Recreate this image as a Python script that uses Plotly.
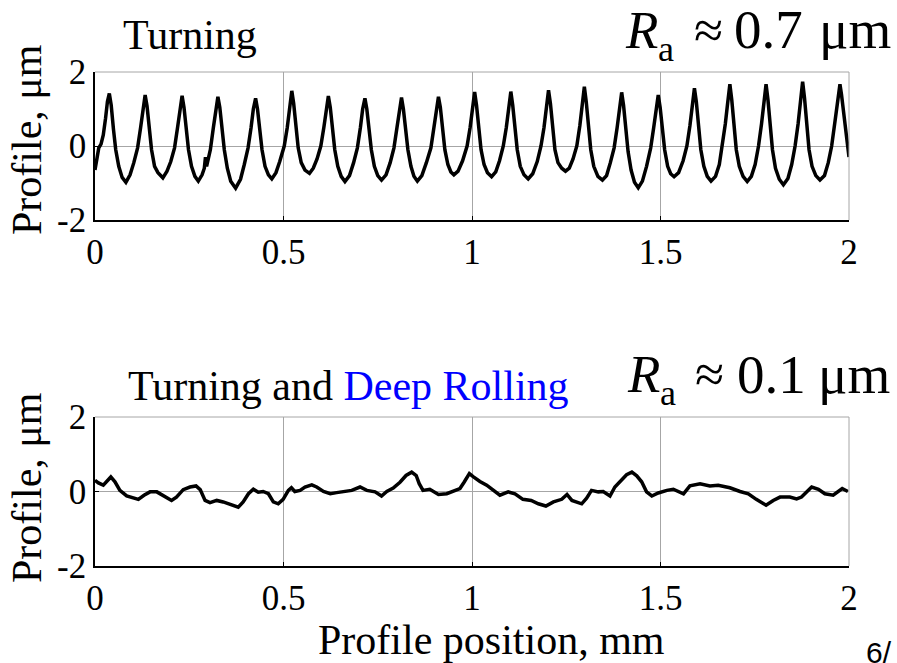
import plotly.graph_objects as go

# ---------------- data ----------------
x_ticks = [0, 0.5, 1, 1.5, 2]
x_tick_labels = ["0", "0.5", "1", "1.5", "2"]
y_ticks = [-2, 0, 2]
y_tick_labels = ["-2", "0", "2"]

turning_x = [
    0.000, 0.005, 0.010, 0.016, 0.022, 0.028, 0.033, 0.038, 0.043, 0.049, 0.055, 0.063, 0.072, 0.082,
    0.093, 0.103, 0.113, 0.121, 0.127, 0.133, 0.138, 0.144, 0.150, 0.158, 0.167, 0.180,
    0.191, 0.201, 0.211, 0.219, 0.225, 0.231, 0.236, 0.242, 0.248, 0.256, 0.265, 0.274,
    0.284, 0.290, 0.293, 0.296, 0.306, 0.314, 0.320, 0.326, 0.331, 0.337, 0.343, 0.351, 0.360, 0.373,
    0.386, 0.396, 0.406, 0.414, 0.420, 0.426, 0.431, 0.437, 0.443, 0.451, 0.460, 0.469,
    0.480, 0.490, 0.502, 0.510, 0.516, 0.522, 0.527, 0.533, 0.539, 0.547, 0.557, 0.569,
    0.579, 0.589, 0.599, 0.607, 0.613, 0.619, 0.624, 0.630, 0.636, 0.644, 0.653, 0.663,
    0.675, 0.686, 0.696, 0.704, 0.710, 0.716, 0.721, 0.727, 0.733, 0.741, 0.750, 0.760,
    0.772, 0.783, 0.793, 0.801, 0.807, 0.813, 0.818, 0.824, 0.830, 0.838, 0.846, 0.855,
    0.867, 0.879, 0.891, 0.899, 0.905, 0.911, 0.916, 0.922, 0.928, 0.936, 0.944, 0.952,
    0.963, 0.975, 0.987, 0.995, 1.001, 1.007, 1.012, 1.018, 1.024, 1.032, 1.041, 1.052,
    1.063, 1.073, 1.083, 1.091, 1.097, 1.103, 1.108, 1.114, 1.120, 1.128, 1.138, 1.149,
    1.161, 1.173, 1.183, 1.191, 1.197, 1.203, 1.208, 1.214, 1.220, 1.228, 1.238, 1.248,
    1.258, 1.268, 1.278, 1.286, 1.292, 1.298, 1.303, 1.309, 1.315, 1.323, 1.334, 1.346,
    1.357, 1.367, 1.377, 1.385, 1.391, 1.397, 1.402, 1.408, 1.414, 1.422, 1.431, 1.441,
    1.452, 1.463, 1.474, 1.482, 1.488, 1.494, 1.499, 1.505, 1.511, 1.519, 1.527, 1.536,
    1.548, 1.560, 1.570, 1.578, 1.584, 1.590, 1.595, 1.601, 1.607, 1.615, 1.624, 1.634,
    1.646, 1.656, 1.664, 1.672, 1.678, 1.684, 1.689, 1.695, 1.701, 1.709, 1.719, 1.730,
    1.741, 1.751, 1.760, 1.768, 1.774, 1.780, 1.785, 1.791, 1.797, 1.805, 1.815, 1.826,
    1.838, 1.848, 1.857, 1.865, 1.871, 1.877, 1.882, 1.888, 1.894, 1.902, 1.912, 1.923,
    1.935, 1.945, 1.954, 1.962, 1.968, 1.973, 1.976, 1.980, 1.986, 1.992, 1.997, 2.000,
]
turning_y = [
    -0.65, -0.35, -0.05, 0.05, 0.30, 0.75, 1.20, 1.42, 1.10, 0.45, -0.10, -0.55, -0.85, -0.98,
    -0.78, -0.45, -0.05, 0.50, 1.00, 1.38, 1.08, 0.45, -0.10, -0.55, -0.72, -0.86,
    -0.68, -0.42, -0.05, 0.50, 1.00, 1.36, 1.05, 0.45, -0.10, -0.55, -0.82, -0.95,
    -0.78, -0.60, -0.30, -0.55, -0.10, 0.50, 1.00, 1.33, 1.05, 0.45, -0.10, -0.60, -0.95, -1.14,
    -0.90, -0.50, -0.05, 0.50, 1.00, 1.29, 1.00, 0.45, -0.10, -0.55, -0.78, -0.89,
    -0.72, -0.42, 0.00, 0.50, 1.05, 1.49, 1.15, 0.50, -0.05, -0.45, -0.65, -0.74,
    -0.60, -0.35, 0.00, 0.50, 1.00, 1.35, 1.05, 0.45, -0.10, -0.55, -0.82, -0.96,
    -0.80, -0.45, -0.05, 0.50, 1.00, 1.29, 1.00, 0.45, -0.10, -0.55, -0.80, -0.92,
    -0.78, -0.45, -0.05, 0.50, 1.00, 1.31, 1.00, 0.45, -0.10, -0.55, -0.82, -0.95,
    -0.80, -0.45, -0.05, 0.50, 1.00, 1.33, 1.05, 0.45, -0.10, -0.50, -0.70, -0.78,
    -0.68, -0.40, 0.00, 0.50, 1.05, 1.46, 1.10, 0.45, -0.10, -0.50, -0.72, -0.83,
    -0.70, -0.40, 0.00, 0.50, 1.05, 1.47, 1.10, 0.45, -0.10, -0.55, -0.78, -0.89,
    -0.75, -0.42, 0.00, 0.50, 1.05, 1.51, 1.15, 0.45, -0.10, -0.45, -0.60, -0.68,
    -0.60, -0.35, 0.00, 0.55, 1.10, 1.60, 1.20, 0.50, -0.10, -0.55, -0.82, -0.92,
    -0.80, -0.45, -0.05, 0.50, 1.05, 1.45, 1.10, 0.45, -0.15, -0.65, -0.98, -1.13,
    -0.95, -0.55, -0.05, 0.50, 1.00, 1.38, 1.05, 0.45, -0.10, -0.55, -0.75, -0.83,
    -0.72, -0.40, 0.00, 0.55, 1.10, 1.56, 1.20, 0.50, -0.10, -0.55, -0.82, -0.95,
    -0.82, -0.50, 0.00, 0.60, 1.15, 1.67, 1.25, 0.50, -0.10, -0.55, -0.82, -0.96,
    -0.82, -0.50, 0.00, 0.60, 1.15, 1.67, 1.25, 0.50, -0.10, -0.60, -0.90, -1.05,
    -0.88, -0.50, 0.00, 0.60, 1.20, 1.74, 1.30, 0.50, -0.10, -0.55, -0.80, -0.92,
    -0.80, -0.45, 0.00, 0.60, 1.15, 1.60, 1.67, 1.40, 0.90, 0.30, -0.05, -0.30,
]

rolling_x = [
    0.000, 0.009, 0.022, 0.031, 0.042, 0.053, 0.066, 0.084, 0.102, 0.115, 0.130, 0.146, 0.164,
    0.181, 0.203, 0.216, 0.234, 0.252, 0.268, 0.279, 0.292, 0.305, 0.323, 0.340, 0.358, 0.380,
    0.393, 0.407, 0.420, 0.433, 0.446, 0.460, 0.473, 0.486, 0.499, 0.513, 0.521, 0.530, 0.544,
    0.557, 0.575, 0.588, 0.606, 0.624, 0.641, 0.663, 0.681, 0.703, 0.721, 0.743, 0.760, 0.774,
    0.791, 0.809, 0.825, 0.840, 0.852, 0.860, 0.870, 0.888, 0.911, 0.933, 0.951, 0.968, 0.979,
    0.993, 1.003, 1.016, 1.021, 1.039, 1.057, 1.074, 1.096, 1.114, 1.135, 1.157, 1.176, 1.196,
    1.216, 1.238, 1.252, 1.265, 1.291, 1.304, 1.317, 1.335, 1.348, 1.366, 1.379, 1.397, 1.410,
    1.424, 1.437, 1.450, 1.463, 1.477, 1.494, 1.517, 1.534, 1.561, 1.578, 1.605, 1.631, 1.653,
    1.684, 1.711, 1.733, 1.754, 1.780, 1.799, 1.817, 1.843, 1.861, 1.874, 1.888, 1.901, 1.919,
    1.936, 1.958, 1.972, 1.982, 1.997,
]
rolling_y = [
    0.30, 0.23, 0.17, 0.26, 0.39, 0.26, 0.03, -0.12, -0.17, -0.21, -0.10, -0.01, -0.01,
    -0.10, -0.24, -0.15, 0.05, 0.12, 0.15, 0.05, -0.24, -0.30, -0.24, -0.28, -0.35, -0.42,
    -0.28, -0.06, 0.06, -0.02, 0.00, -0.06, -0.28, -0.33, -0.21, 0.03, 0.10, 0.00, 0.03,
    0.12, 0.18, 0.12, 0.00, -0.06, -0.03, -0.01, 0.03, 0.12, 0.03, -0.01, -0.12, 0.00,
    0.09, 0.25, 0.43, 0.52, 0.43, 0.21, 0.03, 0.06, -0.08, -0.06, 0.00, 0.08, 0.25,
    0.48, 0.40, 0.30, 0.27, 0.17, 0.03, -0.10, -0.01, -0.06, -0.21, -0.24, -0.33, -0.39,
    -0.28, -0.21, -0.08, -0.24, -0.33, -0.18, 0.03, -0.01, 0.00, -0.12, 0.12, 0.30, 0.45,
    0.52, 0.42, 0.26, -0.01, -0.12, -0.04, 0.03, 0.06, -0.06, 0.15, 0.21, 0.15, 0.17,
    0.10, 0.00, -0.06, -0.21, -0.37, -0.24, -0.15, -0.15, -0.20, -0.15, 0.00, 0.12, 0.06,
    -0.06, -0.10, -0.01, 0.08, 0.00,
]

# roughness labels: (Ra value text)
ra_values = ["0.7", "0.1"]

W, H = 897, 663
FONT = "Liberation Serif, Times New Roman, serif"


def px_x(p):
    return p / W


def px_y(p):
    return (H - p) / H


fig = go.Figure()
fig.add_trace(go.Scatter(x=turning_x, y=turning_y, mode="lines",
                         line=dict(color="black", width=3.5), xaxis="x", yaxis="y",
                         showlegend=False, hoverinfo="skip"))
fig.add_trace(go.Scatter(x=rolling_x, y=rolling_y, mode="lines",
                         line=dict(color="black", width=3.5), xaxis="x2", yaxis="y2",
                         showlegend=False, hoverinfo="skip"))

xdom = [px_x(95), px_x(849)]
common_x = dict(range=[0, 2], tickvals=x_ticks, ticktext=x_tick_labels,
                showgrid=True, gridcolor="#a6a6a6", gridwidth=1, zeroline=False,
                showline=True, linecolor="black", linewidth=1.5, automargin=False,
                ticks="inside", ticklen=4, tickcolor="black",
                tickfont=dict(family=FONT, size=35, color="black"), fixedrange=True)
common_y = dict(range=[-2, 2], tickvals=y_ticks, ticktext=y_tick_labels,
                showgrid=True, gridcolor="#a6a6a6", gridwidth=1, zeroline=False,
                showline=True, linecolor="black", linewidth=1.5, automargin=False,
                ticks="inside", ticklen=4, tickcolor="black",
                tickfont=dict(family=FONT, size=35, color="black"), fixedrange=True)

fig.update_layout(
    width=W, height=H, margin=dict(l=0, r=0, t=0, b=0, autoexpand=False),
    paper_bgcolor="white", plot_bgcolor="white",
    xaxis=dict(domain=xdom, anchor="y", **common_x),
    yaxis=dict(domain=[px_y(220), px_y(72)], anchor="x", **common_y),
    xaxis2=dict(domain=xdom, anchor="y2", **common_x),
    yaxis2=dict(domain=[px_y(566), px_y(417)], anchor="x2", **common_y),
)

# gray top/right frame lines
for xa, ya in (("x", "y"), ("x2", "y2")):
    fig.add_shape(type="line", xref=xa + " domain", yref=ya + " domain",
                  x0=0, x1=1, y0=1, y1=1, line=dict(color="#a6a6a6", width=1))
    fig.add_shape(type="line", xref=xa + " domain", yref=ya + " domain",
                  x0=1, x1=1, y0=0, y1=1, line=dict(color="#a6a6a6", width=1))

ann = []


def txt(text, xp, yp, size, xanchor="left", color="black", family=FONT, **kw):
    ann.append(dict(text=text, x=px_x(xp), y=px_y(yp), xref="paper", yref="paper",
                    showarrow=False, xanchor=xanchor, yanchor="middle",
                    font=dict(family=family, size=size, color=color), **kw))


for yc in (140, 488):
    txt("Profile, μm", 27, yc, 42, xanchor="center", textangle=-90)
txt("Profile position, mm", 492, 640, 42, xanchor="center")
txt("Turning", 121, 35, 42)
txt("Turning and <span style='color:#0000ff'>Deep Rolling</span>", 126, 386, 42)

# R_a labels, built from pieces to mimic the equation layout
for (base, xs), val in zip(((48, (623, 656, 692, 732, 817)), (392, (625, 658, 693, 735, 816))), ra_values):
    c = base - 18
    txt("<i>R</i>", xs[0], c, 53)
    txt("a", xs[1], base + 1, 36)
    txt("≈", xs[2], c, 53)
    txt(val, xs[3], c, 55)
    txt("μm", xs[4], c, 55)

txt("6/", 864, 652, 30, family="Liberation Sans, Arial, sans-serif")
fig.update_layout(annotations=ann)

fig.write_html("out.html")
